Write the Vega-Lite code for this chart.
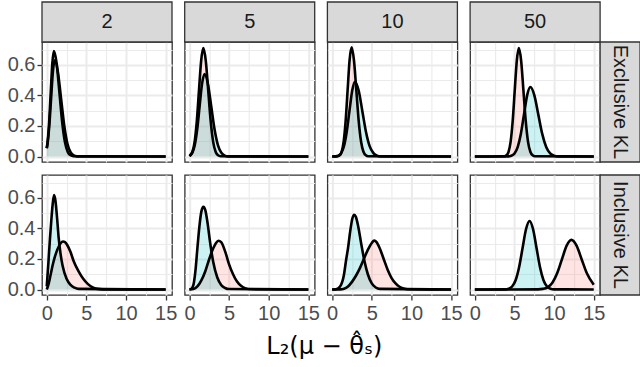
{
  "$schema": "https://vega.github.io/schema/vega-lite/v6.json",
  "padding": {"left": 7, "top": 0, "right": 0, "bottom": 0},
  "config": {
    "font": "Liberation Sans",
    "view": {"stroke": "#333333", "strokeWidth": 1.3}
  },
  "title": {"text": "L₂(μ − θ̂ₛ)", "orient": "bottom", "anchor": "middle", "font": "DejaVu Sans", "fontSize": 24, "fontWeight": "normal", "color": "#000000", "offset": 12},
  "data": {"values": [
    {"n":2,"k":"Exclusive KL","g":"a","x":0,"y":0.055},{"n":2,"k":"Exclusive KL","g":"a","x":0.1,"y":0.093},{"n":2,"k":"Exclusive KL","g":"a","x":0.3,"y":0.224},{"n":2,"k":"Exclusive KL","g":"a","x":0.5,"y":0.418},{"n":2,"k":"Exclusive KL","g":"a","x":0.7,"y":0.609},{"n":2,"k":"Exclusive KL","g":"a","x":0.9,"y":0.69},{"n":2,"k":"Exclusive KL","g":"a","x":1.25,"y":0.609},{"n":2,"k":"Exclusive KL","g":"a","x":1.6,"y":0.418},{"n":2,"k":"Exclusive KL","g":"a","x":1.95,"y":0.224},{"n":2,"k":"Exclusive KL","g":"a","x":2.3,"y":0.093},{"n":2,"k":"Exclusive KL","g":"a","x":2.65,"y":0.03},{"n":2,"k":"Exclusive KL","g":"a","x":3.0,"y":0.008},{"n":2,"k":"Exclusive KL","g":"a","x":3.35,"y":0.002},{"n":2,"k":"Exclusive KL","g":"a","x":15,"y":0},
    {"n":2,"k":"Exclusive KL","g":"b","x":0,"y":0.054},{"n":2,"k":"Exclusive KL","g":"b","x":0.1,"y":0.085},{"n":2,"k":"Exclusive KL","g":"b","x":0.325,"y":0.205},{"n":2,"k":"Exclusive KL","g":"b","x":0.55,"y":0.382},{"n":2,"k":"Exclusive KL","g":"b","x":0.775,"y":0.556},{"n":2,"k":"Exclusive KL","g":"b","x":1.0,"y":0.63},{"n":2,"k":"Exclusive KL","g":"b","x":1.4,"y":0.556},{"n":2,"k":"Exclusive KL","g":"b","x":1.8,"y":0.382},{"n":2,"k":"Exclusive KL","g":"b","x":2.2,"y":0.205},{"n":2,"k":"Exclusive KL","g":"b","x":2.6,"y":0.085},{"n":2,"k":"Exclusive KL","g":"b","x":3.0,"y":0.028},{"n":2,"k":"Exclusive KL","g":"b","x":3.4,"y":0.007},{"n":2,"k":"Exclusive KL","g":"b","x":3.8,"y":0.001},{"n":2,"k":"Exclusive KL","g":"b","x":15,"y":0},
    {"n":5,"k":"Exclusive KL","g":"a","x":0,"y":0.002},{"n":5,"k":"Exclusive KL","g":"a","x":0.1,"y":0.008},{"n":5,"k":"Exclusive KL","g":"a","x":0.375,"y":0.031},{"n":5,"k":"Exclusive KL","g":"a","x":0.65,"y":0.096},{"n":5,"k":"Exclusive KL","g":"a","x":0.925,"y":0.231},{"n":5,"k":"Exclusive KL","g":"a","x":1.2,"y":0.431},{"n":5,"k":"Exclusive KL","g":"a","x":1.475,"y":0.627},{"n":5,"k":"Exclusive KL","g":"a","x":1.75,"y":0.71},{"n":5,"k":"Exclusive KL","g":"a","x":2.06,"y":0.627},{"n":5,"k":"Exclusive KL","g":"a","x":2.37,"y":0.431},{"n":5,"k":"Exclusive KL","g":"a","x":2.68,"y":0.231},{"n":5,"k":"Exclusive KL","g":"a","x":2.99,"y":0.096},{"n":5,"k":"Exclusive KL","g":"a","x":3.3,"y":0.031},{"n":5,"k":"Exclusive KL","g":"a","x":3.61,"y":0.008},{"n":5,"k":"Exclusive KL","g":"a","x":3.92,"y":0.002},{"n":5,"k":"Exclusive KL","g":"a","x":15,"y":0},
    {"n":5,"k":"Exclusive KL","g":"b","x":0,"y":0.005},{"n":5,"k":"Exclusive KL","g":"b","x":0.35,"y":0.024},{"n":5,"k":"Exclusive KL","g":"b","x":0.66,"y":0.073},{"n":5,"k":"Exclusive KL","g":"b","x":0.97,"y":0.175},{"n":5,"k":"Exclusive KL","g":"b","x":1.28,"y":0.328},{"n":5,"k":"Exclusive KL","g":"b","x":1.59,"y":0.477},{"n":5,"k":"Exclusive KL","g":"b","x":1.9,"y":0.54},{"n":5,"k":"Exclusive KL","g":"b","x":2.325,"y":0.477},{"n":5,"k":"Exclusive KL","g":"b","x":2.75,"y":0.328},{"n":5,"k":"Exclusive KL","g":"b","x":3.175,"y":0.175},{"n":5,"k":"Exclusive KL","g":"b","x":3.6,"y":0.073},{"n":5,"k":"Exclusive KL","g":"b","x":4.025,"y":0.024},{"n":5,"k":"Exclusive KL","g":"b","x":4.45,"y":0.006},{"n":5,"k":"Exclusive KL","g":"b","x":4.875,"y":0.001},{"n":5,"k":"Exclusive KL","g":"b","x":15,"y":0},
    {"n":10,"k":"Exclusive KL","g":"a","x":0,"y":0},{"n":10,"k":"Exclusive KL","g":"a","x":0.7,"y":0.002},{"n":10,"k":"Exclusive KL","g":"a","x":0.95,"y":0.008},{"n":10,"k":"Exclusive KL","g":"a","x":1.2,"y":0.031},{"n":10,"k":"Exclusive KL","g":"a","x":1.45,"y":0.097},{"n":10,"k":"Exclusive KL","g":"a","x":1.7,"y":0.232},{"n":10,"k":"Exclusive KL","g":"a","x":1.95,"y":0.434},{"n":10,"k":"Exclusive KL","g":"a","x":2.2,"y":0.631},{"n":10,"k":"Exclusive KL","g":"a","x":2.45,"y":0.715},{"n":10,"k":"Exclusive KL","g":"a","x":2.75,"y":0.631},{"n":10,"k":"Exclusive KL","g":"a","x":3.05,"y":0.434},{"n":10,"k":"Exclusive KL","g":"a","x":3.35,"y":0.232},{"n":10,"k":"Exclusive KL","g":"a","x":3.65,"y":0.097},{"n":10,"k":"Exclusive KL","g":"a","x":3.95,"y":0.031},{"n":10,"k":"Exclusive KL","g":"a","x":4.25,"y":0.008},{"n":10,"k":"Exclusive KL","g":"a","x":4.55,"y":0.002},{"n":10,"k":"Exclusive KL","g":"a","x":15,"y":0},
    {"n":10,"k":"Exclusive KL","g":"b","x":0,"y":0},{"n":10,"k":"Exclusive KL","g":"b","x":0.43,"y":0.001},{"n":10,"k":"Exclusive KL","g":"b","x":0.78,"y":0.005},{"n":10,"k":"Exclusive KL","g":"b","x":1.13,"y":0.022},{"n":10,"k":"Exclusive KL","g":"b","x":1.48,"y":0.066},{"n":10,"k":"Exclusive KL","g":"b","x":1.83,"y":0.159},{"n":10,"k":"Exclusive KL","g":"b","x":2.18,"y":0.297},{"n":10,"k":"Exclusive KL","g":"b","x":2.53,"y":0.432},{"n":10,"k":"Exclusive KL","g":"b","x":2.88,"y":0.49},{"n":10,"k":"Exclusive KL","g":"b","x":3.345,"y":0.432},{"n":10,"k":"Exclusive KL","g":"b","x":3.81,"y":0.297},{"n":10,"k":"Exclusive KL","g":"b","x":4.275,"y":0.159},{"n":10,"k":"Exclusive KL","g":"b","x":4.74,"y":0.066},{"n":10,"k":"Exclusive KL","g":"b","x":5.205,"y":0.022},{"n":10,"k":"Exclusive KL","g":"b","x":5.67,"y":0.005},{"n":10,"k":"Exclusive KL","g":"b","x":6.135,"y":0.001},{"n":10,"k":"Exclusive KL","g":"b","x":15,"y":0},
    {"n":50,"k":"Exclusive KL","g":"a","x":0,"y":0},{"n":50,"k":"Exclusive KL","g":"a","x":3.73,"y":0.002},{"n":50,"k":"Exclusive KL","g":"a","x":3.99,"y":0.008},{"n":50,"k":"Exclusive KL","g":"a","x":4.25,"y":0.031},{"n":50,"k":"Exclusive KL","g":"a","x":4.51,"y":0.096},{"n":50,"k":"Exclusive KL","g":"a","x":4.77,"y":0.231},{"n":50,"k":"Exclusive KL","g":"a","x":5.03,"y":0.431},{"n":50,"k":"Exclusive KL","g":"a","x":5.29,"y":0.627},{"n":50,"k":"Exclusive KL","g":"a","x":5.55,"y":0.71},{"n":50,"k":"Exclusive KL","g":"a","x":5.84,"y":0.627},{"n":50,"k":"Exclusive KL","g":"a","x":6.13,"y":0.431},{"n":50,"k":"Exclusive KL","g":"a","x":6.42,"y":0.231},{"n":50,"k":"Exclusive KL","g":"a","x":6.71,"y":0.096},{"n":50,"k":"Exclusive KL","g":"a","x":7.0,"y":0.031},{"n":50,"k":"Exclusive KL","g":"a","x":7.29,"y":0.008},{"n":50,"k":"Exclusive KL","g":"a","x":7.58,"y":0.002},{"n":50,"k":"Exclusive KL","g":"a","x":15,"y":0},
    {"n":50,"k":"Exclusive KL","g":"b","x":0,"y":0},{"n":50,"k":"Exclusive KL","g":"b","x":4.2,"y":0.001},{"n":50,"k":"Exclusive KL","g":"b","x":4.6,"y":0.005},{"n":50,"k":"Exclusive KL","g":"b","x":5.0,"y":0.02},{"n":50,"k":"Exclusive KL","g":"b","x":5.4,"y":0.062},{"n":50,"k":"Exclusive KL","g":"b","x":5.8,"y":0.148},{"n":50,"k":"Exclusive KL","g":"b","x":6.2,"y":0.276},{"n":50,"k":"Exclusive KL","g":"b","x":6.6,"y":0.402},{"n":50,"k":"Exclusive KL","g":"b","x":7.0,"y":0.455},{"n":50,"k":"Exclusive KL","g":"b","x":7.5,"y":0.402},{"n":50,"k":"Exclusive KL","g":"b","x":8.0,"y":0.276},{"n":50,"k":"Exclusive KL","g":"b","x":8.5,"y":0.148},{"n":50,"k":"Exclusive KL","g":"b","x":9.0,"y":0.062},{"n":50,"k":"Exclusive KL","g":"b","x":9.5,"y":0.02},{"n":50,"k":"Exclusive KL","g":"b","x":10.0,"y":0.005},{"n":50,"k":"Exclusive KL","g":"b","x":10.5,"y":0.001},{"n":50,"k":"Exclusive KL","g":"b","x":15,"y":0},
    {"n":2,"k":"Inclusive KL","g":"a","x":0,"y":0},{"n":2,"k":"Inclusive KL","g":"a","x":0.25,"y":0.04},{"n":2,"k":"Inclusive KL","g":"a","x":0.5,"y":0.1},{"n":2,"k":"Inclusive KL","g":"a","x":0.75,"y":0.16},{"n":2,"k":"Inclusive KL","g":"a","x":1.0,"y":0.21},{"n":2,"k":"Inclusive KL","g":"a","x":1.25,"y":0.25},{"n":2,"k":"Inclusive KL","g":"a","x":1.5,"y":0.28},{"n":2,"k":"Inclusive KL","g":"a","x":1.75,"y":0.303},{"n":2,"k":"Inclusive KL","g":"a","x":2.05,"y":0.314},{"n":2,"k":"Inclusive KL","g":"a","x":2.3,"y":0.31},{"n":2,"k":"Inclusive KL","g":"a","x":2.6,"y":0.29},{"n":2,"k":"Inclusive KL","g":"a","x":3.0,"y":0.245},{"n":2,"k":"Inclusive KL","g":"a","x":3.4,"y":0.185},{"n":2,"k":"Inclusive KL","g":"a","x":4.0,"y":0.12},{"n":2,"k":"Inclusive KL","g":"a","x":4.6,"y":0.07},{"n":2,"k":"Inclusive KL","g":"a","x":5.2,"y":0.035},{"n":2,"k":"Inclusive KL","g":"a","x":5.8,"y":0.013},{"n":2,"k":"Inclusive KL","g":"a","x":6.4,"y":0.004},{"n":2,"k":"Inclusive KL","g":"a","x":7.0,"y":0.001},{"n":2,"k":"Inclusive KL","g":"a","x":15,"y":0},
    {"n":2,"k":"Inclusive KL","g":"b","x":0,"y":0.02},{"n":2,"k":"Inclusive KL","g":"b","x":0.2,"y":0.17},{"n":2,"k":"Inclusive KL","g":"b","x":0.4,"y":0.33},{"n":2,"k":"Inclusive KL","g":"b","x":0.6,"y":0.47},{"n":2,"k":"Inclusive KL","g":"b","x":0.75,"y":0.56},{"n":2,"k":"Inclusive KL","g":"b","x":0.92,"y":0.618},{"n":2,"k":"Inclusive KL","g":"b","x":1.1,"y":0.58},{"n":2,"k":"Inclusive KL","g":"b","x":1.3,"y":0.47},{"n":2,"k":"Inclusive KL","g":"b","x":1.5,"y":0.34},{"n":2,"k":"Inclusive KL","g":"b","x":1.75,"y":0.23},{"n":2,"k":"Inclusive KL","g":"b","x":2.0,"y":0.155},{"n":2,"k":"Inclusive KL","g":"b","x":2.5,"y":0.07},{"n":2,"k":"Inclusive KL","g":"b","x":3.0,"y":0.03},{"n":2,"k":"Inclusive KL","g":"b","x":3.5,"y":0.012},{"n":2,"k":"Inclusive KL","g":"b","x":4.0,"y":0.004},{"n":2,"k":"Inclusive KL","g":"b","x":15,"y":0},
    {"n":5,"k":"Inclusive KL","g":"a","x":0,"y":0},{"n":5,"k":"Inclusive KL","g":"a","x":0.5,"y":0.003},{"n":5,"k":"Inclusive KL","g":"a","x":1.0,"y":0.02},{"n":5,"k":"Inclusive KL","g":"a","x":1.5,"y":0.06},{"n":5,"k":"Inclusive KL","g":"a","x":2.0,"y":0.12},{"n":5,"k":"Inclusive KL","g":"a","x":2.5,"y":0.2},{"n":5,"k":"Inclusive KL","g":"a","x":3.0,"y":0.27},{"n":5,"k":"Inclusive KL","g":"a","x":3.35,"y":0.305},{"n":5,"k":"Inclusive KL","g":"a","x":3.66,"y":0.319},{"n":5,"k":"Inclusive KL","g":"a","x":4.0,"y":0.31},{"n":5,"k":"Inclusive KL","g":"a","x":4.5,"y":0.25},{"n":5,"k":"Inclusive KL","g":"a","x":5.0,"y":0.165},{"n":5,"k":"Inclusive KL","g":"a","x":5.5,"y":0.1},{"n":5,"k":"Inclusive KL","g":"a","x":6.0,"y":0.052},{"n":5,"k":"Inclusive KL","g":"a","x":6.5,"y":0.024},{"n":5,"k":"Inclusive KL","g":"a","x":7.0,"y":0.009},{"n":5,"k":"Inclusive KL","g":"a","x":7.5,"y":0.003},{"n":5,"k":"Inclusive KL","g":"a","x":15,"y":0},
    {"n":5,"k":"Inclusive KL","g":"b","x":0,"y":0},{"n":5,"k":"Inclusive KL","g":"b","x":0.25,"y":0.005},{"n":5,"k":"Inclusive KL","g":"b","x":0.5,"y":0.03},{"n":5,"k":"Inclusive KL","g":"b","x":0.75,"y":0.12},{"n":5,"k":"Inclusive KL","g":"b","x":1.0,"y":0.27},{"n":5,"k":"Inclusive KL","g":"b","x":1.25,"y":0.41},{"n":5,"k":"Inclusive KL","g":"b","x":1.5,"y":0.51},{"n":5,"k":"Inclusive KL","g":"b","x":1.76,"y":0.542},{"n":5,"k":"Inclusive KL","g":"b","x":2.0,"y":0.52},{"n":5,"k":"Inclusive KL","g":"b","x":2.3,"y":0.43},{"n":5,"k":"Inclusive KL","g":"b","x":2.6,"y":0.31},{"n":5,"k":"Inclusive KL","g":"b","x":3.0,"y":0.18},{"n":5,"k":"Inclusive KL","g":"b","x":3.5,"y":0.08},{"n":5,"k":"Inclusive KL","g":"b","x":4.0,"y":0.03},{"n":5,"k":"Inclusive KL","g":"b","x":4.5,"y":0.01},{"n":5,"k":"Inclusive KL","g":"b","x":5.0,"y":0.003},{"n":5,"k":"Inclusive KL","g":"b","x":15,"y":0},
    {"n":10,"k":"Inclusive KL","g":"a","x":0,"y":0},{"n":10,"k":"Inclusive KL","g":"a","x":1.0,"y":0.001},{"n":10,"k":"Inclusive KL","g":"a","x":1.5,"y":0.005},{"n":10,"k":"Inclusive KL","g":"a","x":2.0,"y":0.02},{"n":10,"k":"Inclusive KL","g":"a","x":2.5,"y":0.05},{"n":10,"k":"Inclusive KL","g":"a","x":3.0,"y":0.09},{"n":10,"k":"Inclusive KL","g":"a","x":3.5,"y":0.14},{"n":10,"k":"Inclusive KL","g":"a","x":4.0,"y":0.2},{"n":10,"k":"Inclusive KL","g":"a","x":4.5,"y":0.26},{"n":10,"k":"Inclusive KL","g":"a","x":5.0,"y":0.305},{"n":10,"k":"Inclusive KL","g":"a","x":5.3,"y":0.32},{"n":10,"k":"Inclusive KL","g":"a","x":5.6,"y":0.31},{"n":10,"k":"Inclusive KL","g":"a","x":6.0,"y":0.27},{"n":10,"k":"Inclusive KL","g":"a","x":6.5,"y":0.2},{"n":10,"k":"Inclusive KL","g":"a","x":7.0,"y":0.13},{"n":10,"k":"Inclusive KL","g":"a","x":7.5,"y":0.075},{"n":10,"k":"Inclusive KL","g":"a","x":8.0,"y":0.04},{"n":10,"k":"Inclusive KL","g":"a","x":8.5,"y":0.018},{"n":10,"k":"Inclusive KL","g":"a","x":9.0,"y":0.007},{"n":10,"k":"Inclusive KL","g":"a","x":9.5,"y":0.002},{"n":10,"k":"Inclusive KL","g":"a","x":15,"y":0},
    {"n":10,"k":"Inclusive KL","g":"b","x":0,"y":0},{"n":10,"k":"Inclusive KL","g":"b","x":0.5,"y":0.002},{"n":10,"k":"Inclusive KL","g":"b","x":1.0,"y":0.02},{"n":10,"k":"Inclusive KL","g":"b","x":1.5,"y":0.1},{"n":10,"k":"Inclusive KL","g":"b","x":1.75,"y":0.19},{"n":10,"k":"Inclusive KL","g":"b","x":2.0,"y":0.27},{"n":10,"k":"Inclusive KL","g":"b","x":2.3,"y":0.39},{"n":10,"k":"Inclusive KL","g":"b","x":2.55,"y":0.465},{"n":10,"k":"Inclusive KL","g":"b","x":2.77,"y":0.49},{"n":10,"k":"Inclusive KL","g":"b","x":3.0,"y":0.475},{"n":10,"k":"Inclusive KL","g":"b","x":3.3,"y":0.41},{"n":10,"k":"Inclusive KL","g":"b","x":3.7,"y":0.29},{"n":10,"k":"Inclusive KL","g":"b","x":4.1,"y":0.18},{"n":10,"k":"Inclusive KL","g":"b","x":4.5,"y":0.1},{"n":10,"k":"Inclusive KL","g":"b","x":5.0,"y":0.04},{"n":10,"k":"Inclusive KL","g":"b","x":5.5,"y":0.013},{"n":10,"k":"Inclusive KL","g":"b","x":6.0,"y":0.004},{"n":10,"k":"Inclusive KL","g":"b","x":15,"y":0},
    {"n":50,"k":"Inclusive KL","g":"a","x":0,"y":0},{"n":50,"k":"Inclusive KL","g":"a","x":7.98,"y":0.001},{"n":50,"k":"Inclusive KL","g":"a","x":8.58,"y":0.004},{"n":50,"k":"Inclusive KL","g":"a","x":9.18,"y":0.014},{"n":50,"k":"Inclusive KL","g":"a","x":9.78,"y":0.044},{"n":50,"k":"Inclusive KL","g":"a","x":10.38,"y":0.106},{"n":50,"k":"Inclusive KL","g":"a","x":10.98,"y":0.197},{"n":50,"k":"Inclusive KL","g":"a","x":11.58,"y":0.287},{"n":50,"k":"Inclusive KL","g":"a","x":12.18,"y":0.325},{"n":50,"k":"Inclusive KL","g":"a","x":12.83,"y":0.287},{"n":50,"k":"Inclusive KL","g":"a","x":13.48,"y":0.197},{"n":50,"k":"Inclusive KL","g":"a","x":14.13,"y":0.106},{"n":50,"k":"Inclusive KL","g":"a","x":15,"y":0.031},
    {"n":50,"k":"Inclusive KL","g":"b","x":0,"y":0},{"n":50,"k":"Inclusive KL","g":"b","x":3.82,"y":0.001},{"n":50,"k":"Inclusive KL","g":"b","x":4.26,"y":0.005},{"n":50,"k":"Inclusive KL","g":"b","x":4.7,"y":0.02},{"n":50,"k":"Inclusive KL","g":"b","x":5.14,"y":0.061},{"n":50,"k":"Inclusive KL","g":"b","x":5.58,"y":0.146},{"n":50,"k":"Inclusive KL","g":"b","x":6.02,"y":0.272},{"n":50,"k":"Inclusive KL","g":"b","x":6.46,"y":0.396},{"n":50,"k":"Inclusive KL","g":"b","x":6.9,"y":0.449},{"n":50,"k":"Inclusive KL","g":"b","x":7.34,"y":0.396},{"n":50,"k":"Inclusive KL","g":"b","x":7.78,"y":0.272},{"n":50,"k":"Inclusive KL","g":"b","x":8.22,"y":0.146},{"n":50,"k":"Inclusive KL","g":"b","x":8.66,"y":0.061},{"n":50,"k":"Inclusive KL","g":"b","x":9.1,"y":0.02},{"n":50,"k":"Inclusive KL","g":"b","x":9.54,"y":0.005},{"n":50,"k":"Inclusive KL","g":"b","x":9.98,"y":0.001},{"n":50,"k":"Inclusive KL","g":"b","x":15,"y":0}
  ]},
  "facet": {
    "row": {"field": "k", "type": "nominal", "sort": ["Exclusive KL", "Inclusive KL"], "header": {"labels": false, "title": null}},
    "column": {"field": "n", "type": "ordinal", "sort": [2, 5, 10, 50], "header": {"labels": false, "title": null}}
  },
  "spacing": {"row": 13, "column": 12.7},
  "bounds": "flush",
  "spec": {
    "width": 130,
    "height": 120,
    "layer": [
      {
        "mark": {"type": "area", "interpolate": "monotone", "fillOpacity": 0.2},
        "encoding": {
          "x": {"field": "x", "type": "quantitative",
                "scale": {"domain": [-0.6, 15.8], "nice": false, "zero": false},
                "axis": {"title": null, "domain": false, "values": [0, 2.5, 5, 7.5, 10, 12.5, 15], "tickCount": 30,
                         "labelExpr": "datum.value % 5 === 0 ? format(datum.value, 'd') : ''",
                         "labelOverlap": false,
                         "labelFontSize": 20, "labelColor": "#4D4D4D", "labelPadding": 3,
                         "tickColor": "#333333", "tickSize": 5, "tickWidth": 1.3,
                         "tickOpacity": {"condition": {"test": "datum.value % 5 === 0", "value": 1}, "value": 0},
                         "gridColor": "#EBEBEB",
                         "gridWidth": {"condition": {"test": "datum.value % 5 === 0", "value": 2}, "value": 1.1}}},
          "y": {"field": "y", "type": "quantitative", "stack": null,
                "scale": {"domain": [-0.036, 0.75], "nice": false, "zero": false},
                "axis": {"title": null, "domain": false, "values": [0, 0.1, 0.2, 0.3, 0.4, 0.5, 0.6, 0.7], "tickCount": 30,
                         "labelExpr": "round(datum.value * 10) % 2 === 0 ? format(datum.value, '.1f') : ''",
                         "labelOverlap": false,
                         "labelFontSize": 20, "labelColor": "#4D4D4D", "labelPadding": 2,
                         "tickColor": "#333333", "tickSize": 5, "tickWidth": 1.3,
                         "tickOpacity": {"condition": {"test": "round(datum.value * 10) % 2 === 0", "value": 1}, "value": 0},
                         "gridColor": "#EBEBEB",
                         "gridWidth": {"condition": {"test": "round(datum.value * 10) % 2 === 0", "value": 2}, "value": 1.1}}},
          "color": {"field": "g", "type": "nominal", "scale": {"domain": ["a", "b"], "range": ["#F8766D", "#00BFC4"]}, "legend": null}
        }
      },
      {
        "mark": {"type": "line", "interpolate": "monotone", "color": "#000000", "strokeWidth": 2.6},
        "encoding": {
          "x": {"field": "x", "type": "quantitative"},
          "y": {"field": "y", "type": "quantitative"},
          "detail": {"field": "g", "type": "nominal"}
        }
      },
      {
        "transform": [{"filter": "datum.k === 'Exclusive KL' && datum.x === 0 && datum.g === 'a'"}],
        "mark": {"type": "rect", "fill": "#D9D9D9", "stroke": "#333333", "strokeWidth": 1.3, "clip": false},
        "encoding": {"x": {"datum": -0.6}, "x2": {"datum": 15.8}, "y": {"datum": 0.75}, "y2": {"datum": 1.012}}
      },
      {
        "transform": [{"filter": "datum.k === 'Exclusive KL' && datum.x === 0 && datum.g === 'a'"}],
        "mark": {"type": "text", "fontSize": 20, "color": "#1A1A1A", "align": "center", "baseline": "middle", "clip": false},
        "encoding": {"x": {"datum": 7.6}, "y": {"datum": 0.881}, "text": {"field": "n", "type": "nominal"}}
      },
      {
        "transform": [{"filter": "datum.n === 50 && datum.x === 0 && datum.g === 'a'"}],
        "mark": {"type": "rect", "fill": "#D9D9D9", "stroke": "#333333", "strokeWidth": 1.3, "clip": false},
        "encoding": {"x": {"datum": 15.8}, "x2": {"datum": 20.84}, "y": {"datum": -0.036}, "y2": {"datum": 0.75}}
      },
      {
        "transform": [{"filter": "datum.n === 50 && datum.x === 0 && datum.g === 'a'"}],
        "mark": {"type": "text", "fontSize": 20, "color": "#1A1A1A", "align": "center", "baseline": "middle", "angle": 90, "clip": false},
        "encoding": {"x": {"datum": 18.32}, "y": {"datum": 0.357}, "text": {"field": "k", "type": "nominal"}}
      }
    ]
  }
}
